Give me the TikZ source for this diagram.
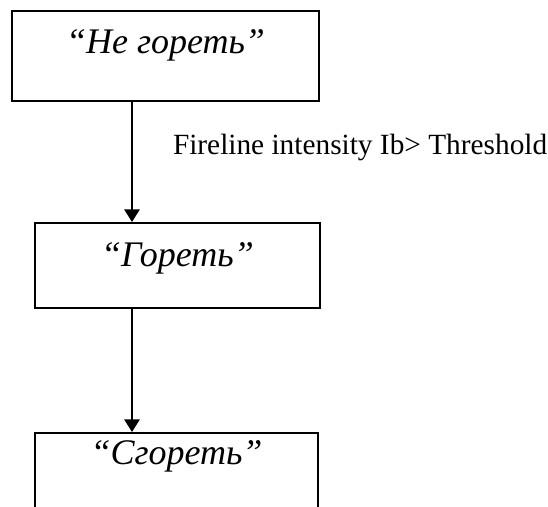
\documentclass[tikz,border=0pt]{standalone}
\usepackage{fontspec}
\setmainfont{Liberation Serif}
\usetikzlibrary{arrows.meta}
\begin{document}
\begin{tikzpicture}[x=0.75pt,y=-0.75pt,
  statebox/.style={draw=black,line width=1.5pt,rectangle,inner sep=0pt,
    font=\fontsize{27pt}{31pt}\selectfont\itshape},
  flow/.style={draw=black,line width=1.5pt,
    -{Triangle[width=11.5pt,length=9.5pt]}},
  cond/.style={font=\fontsize{22pt}{26pt}\selectfont,inner sep=0pt}]
  \clip (0,0) rectangle (548,506);
  % states, placed by their top left corners
  \node[statebox,anchor=north west,minimum width=307*0.75pt,
        text height=43*0.75pt,text depth=47*0.75pt] (ne) at (11,10) {“Не гореть”};
  \node[statebox,anchor=north west,minimum width=285*0.75pt,
        text height=43*0.75pt,text depth=42*0.75pt] (gor) at (34,222) {“Гореть”};
  \node[statebox,anchor=north west,minimum width=283*0.75pt,
        text height=31*0.75pt,text depth=90*0.75pt] (sgor) at (34,432) {“Сгореть”};
  % transitions share one vertical line
  \coordinate (col) at (132,0);
  \draw[flow] (ne.south -| col) -- node[cond,pos=0.434,anchor=base west,xshift=40*0.75pt]
    {Fireline intensity Ib> Threshold} (gor.north -| col);
  \draw[flow] (gor.south -| col) -- (sgor.north -| col);
\end{tikzpicture}
\end{document}
